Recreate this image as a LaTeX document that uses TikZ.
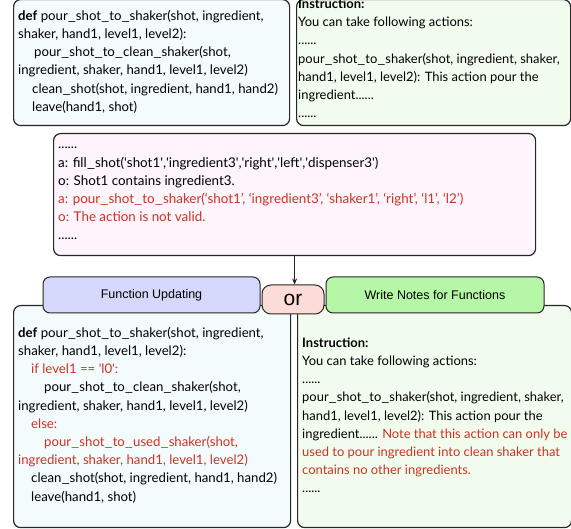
\documentclass[tikz,border=0pt]{standalone}
\usepackage{fontspec}
\usepackage{graphicx}
\setmainfont{Lato}
\newfontfamily\tabfont{Liberation Sans}
\usetikzlibrary{arrows.meta}
\definecolor{boxline}{HTML}{262626}
\definecolor{codefill}{HTML}{F4FBFD}
\definecolor{notefill}{HTML}{F2FCEE}
\definecolor{tracefill}{HTML}{FDF4FC}
\definecolor{tabblue}{HTML}{D5D8FA}
\definecolor{tabgreen}{HTML}{B5F7A7}
\definecolor{orpink}{HTML}{FDDCD8}
\definecolor{errred}{HTML}{CC3322}
\newcommand{\hl}[1]{{\color{errred}#1}}
\newcommand{\sq}{\textquotesingle}
\newcommand{\us}{\scalebox{1.35}[1]{\_}}
\begin{document}
\begin{tikzpicture}[x=1pt,y=-1pt,
  box/.style={draw=boxline,line width=1.2pt,rounded corners=7pt,inner sep=0pt,anchor=north west},
  txt/.style={anchor=north west,inner sep=0pt,align=left,font=\fontsize{13.2}{18.2}\selectfont},
  notetxt/.style={txt,font=\fontsize{12.95}{18.2}\selectfont},
  tab/.style={draw=boxline,line width=1pt,rounded corners=7pt,font=\tabfont\fontsize{12.5}{14}\selectfont}]
  \useasboundingbox (0,0) rectangle (571,529);
  % Original function and instruction
  \node[box,fill=codefill,minimum width=276pt,minimum height=126pt] (code) at (13,-1) {};
  \node[txt] (codetxt) at (18,7.3) {\strut\textbf{def} pour\us shot\us to\us shaker(shot, ingredient,\\
    shaker, hand1, level1, level2):\\
    \hspace*{16pt}pour\us shot\us to\us clean\us shaker(shot,\\
    ingredient, shaker, hand1, level1, level2)\\
    \hspace*{14pt}clean\us shot(shot, ingredient, hand1, hand2)\\
    \hspace*{14pt}leave(hand1, shot)};
  \node[box,fill=notefill,minimum width=274pt,minimum height=126pt] (note) at (296,-1) {};
  \node[notetxt] (notetxt) at (298,-4.5) {\strut\textbf{Instruction:}\\
    You can take following actions:\\
    ......\\
    pour\us shot\us to\us shaker(shot, ingredient, shaker,\\
    hand1, level1, level2): This action pour the\\
    ingredient......\\
    ......};
  % Trajectory
  \node[box,fill=tracefill,minimum width=482pt,minimum height=122pt] (trace) at (53,133) {};
  \node[txt,font=\fontsize{13.4}{18.2}\selectfont] (tracetxt) at (58,136) {\strut......\\
    a: fill\us shot(\sq shot1\sq,\sq ingredient3\sq,\sq right\sq,\sq left\sq,\sq dispenser3\sq)\\
    o: Shot1 contains ingredient3.\\
    \hl{a: pour\us shot\us to\us shaker(‘shot1’, ‘ingredient3’, ‘shaker1’, ‘right’, ‘l1’, ‘l2’)}\\
    \hl{o: The action is not valid.}\\
    ......};
  % Updated function
  \node[box,fill=codefill,minimum width=277pt,minimum height=222pt] (newcode) at (13,305) {};
  \node[txt] (newcodetxt) at (18,324.3) {\strut\textbf{def} pour\us shot\us to\us shaker(shot, ingredient,\\
    shaker, hand1, level1, level2):\\
    \hspace*{13pt}\hl{if level1 == \sq l0\sq:}\\
    \hspace*{26pt}pour\us shot\us to\us clean\us shaker(shot,\\
    ingredient, shaker, hand1, level1, level2)\\
    \hspace*{13pt}\hl{else:}\\
    \hspace*{26pt}\hl{pour\us shot\us to\us used\us shaker(shot,}\\
    \hl{ingredient, shaker, hand1, level1, level2)}\\
    \hspace*{13pt}clean\us shot(shot, ingredient, hand1, hand2)\\
    \hspace*{13pt}leave(hand1, shot)};
  % Updated notes
  \node[box,fill=notefill,minimum width=274pt,minimum height=222pt] (newnote) at (297,305) {};
  \node[notetxt] (newnotetxt) at (302,334.3) {\strut\textbf{Instruction:}\\
    You can take following actions:\\
    ......\\
    pour\us shot\us to\us shaker(shot, ingredient, shaker,\\
    hand1, level1, level2): This action pour the\\
    ingredient...... \hl{Note that this action can only be}\\
    \hl{used to pour ingredient into clean shaker that}\\
    \hl{contains no other ingredients.}\\
    ......};
  % Tabs
  \node[tab,fill=tabblue,minimum width=217pt,minimum height=36pt] (fixtab) at (151.5,295) {Function Updating};
  \node[tab,fill=tabgreen,minimum width=218pt,minimum height=36pt] (notetab) at (435,295) {Write Notes for Functions};
  \node[tab,fill=orpink,minimum width=62pt,minimum height=29pt,rounded corners=9pt,
    font=\tabfont\fontsize{21}{21}\selectfont] (or) at (293,299.5) {or};
  % Arrow
  \draw[-{Stealth[length=6pt,width=5pt]},line width=0.8pt,boxline] (trace.south) -- (trace.south |- or.north);
\end{tikzpicture}
\end{document}
